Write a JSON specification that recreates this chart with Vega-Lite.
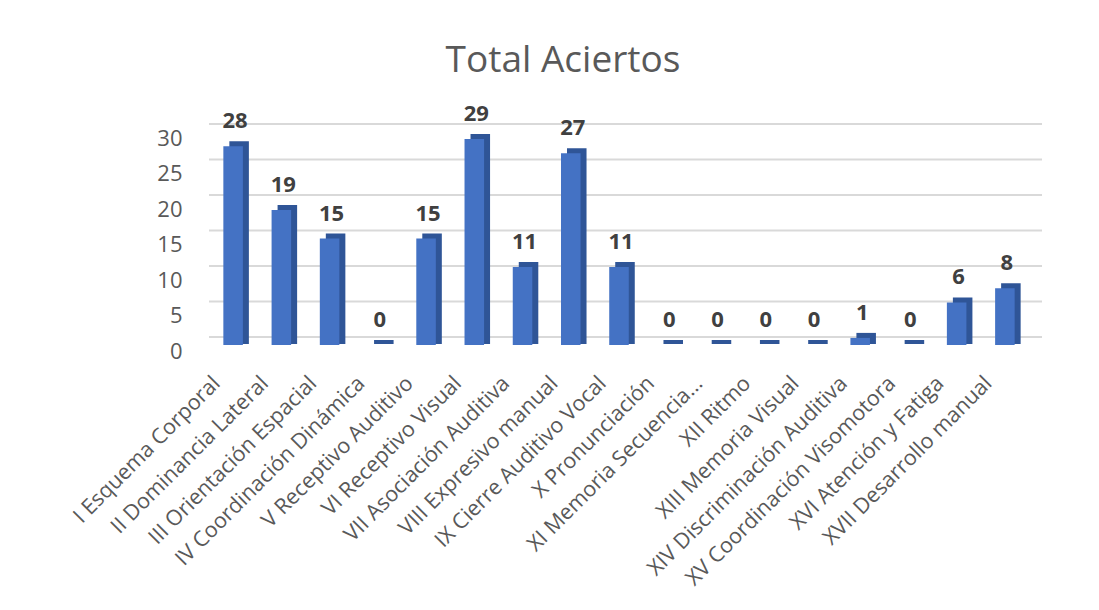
{
  "$schema": "https://vega.github.io/schema/vega-lite/v6.json",
  "autosize": "none",
  "width": 820,
  "height": 213,
  "padding": {"left": 209, "top": 132, "right": 70, "bottom": 265},
  "background": "white",
  "title": {
    "text": "Total Aciertos",
    "font": "Open Sans",
    "fontSize": 37,
    "fontWeight": "normal",
    "color": "#595959",
    "anchor": "middle",
    "frame": "group",
    "dx": -56,
    "offset": 23
  },
  "datasets": {
    "scores": [
      {"area": "I Esquema Corporal", "aciertos": 28},
      {"area": "II Dominancia Lateral", "aciertos": 19},
      {"area": "III Orientación Espacial", "aciertos": 15},
      {"area": "IV Coordinación Dinámica", "aciertos": 0},
      {"area": "V Receptivo Auditivo", "aciertos": 15},
      {"area": "VI Receptivo Visual", "aciertos": 29},
      {"area": "VII Asociación Auditiva", "aciertos": 11},
      {"area": "VIII Expresivo manual", "aciertos": 27},
      {"area": "IX Cierre Auditivo Vocal", "aciertos": 11},
      {"area": "X Pronunciación", "aciertos": 0},
      {"area": "XI Memoria Secuencia...", "aciertos": 0},
      {"area": "XII Ritmo", "aciertos": 0},
      {"area": "XIII Memoria Visual", "aciertos": 0},
      {"area": "XIV Discriminación Auditiva", "aciertos": 1},
      {"area": "XV Coordinación Visomotora", "aciertos": 0},
      {"area": "XVI Atención y Fatiga", "aciertos": 6},
      {"area": "XVII Desarrollo manual", "aciertos": 8}
    ],
    "grid": [
      {"g": 0}, {"g": 5}, {"g": 10}, {"g": 15}, {"g": 20}, {"g": 25}, {"g": 30}
    ]
  },
  "layer": [
    {
      "data": {"name": "grid"},
      "mark": {"type": "rule", "color": "#d9d9d9", "strokeWidth": 2, "yOffset": -8, "xOffset": 13, "x2Offset": 13},
      "encoding": {
        "y": {
          "field": "g",
          "type": "quantitative",
          "scale": {"domain": [0, 30], "nice": false},
          "axis": {
            "title": null,
            "domain": false,
            "ticks": false,
            "grid": false,
            "values": [0, 5, 10, 15, 20, 25, 30],
            "labelFont": "Open Sans",
            "labelFontSize": 22,
            "labelColor": "#595959",
            "labelPadding": 27,
            "labelOffset": 6
          }
        }
      }
    },
    {
      "data": {"name": "scores"},
      "encoding": {
        "x": {
          "field": "area",
          "type": "nominal",
          "sort": null,
          "scale": {"paddingInner": 0.595, "paddingOuter": 0.2975},
          "axis": {
            "title": null,
            "domain": false,
            "ticks": false,
            "labelAngle": -45,
            "labelAlign": "right",
            "labelBaseline": "middle",
            "labelFont": "Open Sans",
            "labelFontSize": 21.5,
            "labelColor": "#595959",
            "labelPadding": 35,
            "labelOffset": -16,
            "labelLimit": 400
          }
        },
        "y": {
          "field": "aciertos",
          "type": "quantitative",
          "stack": null,
          "scale": {"domain": [0, 30], "nice": false},
          "axis": {
            "title": null,
            "domain": false,
            "ticks": false,
            "grid": false,
            "values": [0, 5, 10, 15, 20, 25, 30],
            "labelFont": "Open Sans",
            "labelFontSize": 22,
            "labelColor": "#595959",
            "labelPadding": 27,
            "labelOffset": 6
          }
        }
      },
      "layer": [
        {
          "mark": {"type": "bar", "color": "#2F5597", "xOffset": 6, "yOffset": -5, "y2Offset": -1},
          "encoding": {"y2": {"datum": 0}}
        },
        {
          "mark": {"type": "bar", "color": "#4472C4"}
        },
        {
          "mark": {"type": "text", "font": "Open Sans", "fontSize": 22, "fontWeight": "bold", "color": "#404040", "baseline": "alphabetic", "dy": -18, "dx": 2},
          "encoding": {"text": {"field": "aciertos", "type": "quantitative"}}
        }
      ]
    }
  ],
  "config": {"view": {"stroke": null}}
}
